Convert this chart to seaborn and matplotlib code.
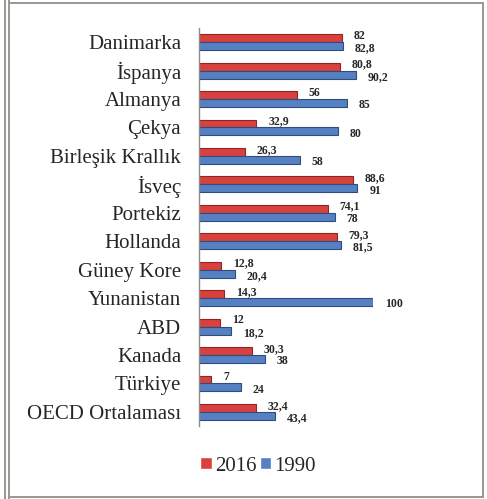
import matplotlib
matplotlib.use("Agg")
import matplotlib.pyplot as plt
import seaborn as sns
import pandas as pd
from matplotlib.lines import Line2D

categories = ["Danimarka", "İspanya", "Almanya", "Çekya", "Birleşik Krallık", "İsveç",
              "Portekiz", "Hollanda", "Güney Kore", "Yunanistan", "ABD", "Kanada",
              "Türkiye", "OECD Ortalaması"]
v2016 = [82, 80.8, 56, 32.9, 26.3, 88.6, 74.1, 79.3, 12.8, 14.3, 12, 30.3, 7, 32.4]
v1990 = [82.8, 90.2, 85, 80, 58, 91, 78, 81.5, 20.4, 100, 18.2, 38, 24, 43.4]
series = ["2016", "1990"]

def fmt(v):
    s = f"{v:g}"
    return s.replace(".", ",")

df = pd.DataFrame({
    "ulke": categories * 2,
    "deger": v2016 + v1990,
    "yil": [series[0]] * len(categories) + [series[1]] * len(categories),
})

sns.set_style("white")
plt.rcParams["font.family"] = ["Liberation Serif", "DejaVu Serif"]

fig = plt.figure(figsize=(4.87, 4.99), dpi=100)
ax = fig.add_axes([0.409, 0.146, 0.357, 0.798])

palette = {"2016": "#D9413E", "1990": "#5580C2"}
sns.barplot(data=df, y="ulke", x="deger", hue="yil", hue_order=series,
            order=categories, orient="h", palette=palette, width=0.56,
            saturation=1, ax=ax, legend=True)

edges = {"2016": "#8E2624", "1990": "#2E4C7E"}
offsets = {"2016": 1.6, "1990": -1.6}
for cont, s, vals in zip(ax.containers, series, [v2016, v1990]):
    for bar, v in zip(cont, vals):
        bar.set_edgecolor(edges[s])
        bar.set_linewidth(0.8)
        yc = bar.get_y() + bar.get_height() / 2
        ax.annotate(fmt(v), xy=(bar.get_width(), yc), xytext=(8.5, offsets[s]),
                    textcoords="offset points", ha="left", va="center",
                    fontsize=8.5, fontweight="bold", annotation_clip=False)

ax.set_xlim(0, 100)
ax.set_ylim(13.5, -0.5)
ax.set_xlabel("")
ax.set_ylabel("")
ax.set_xticks([])
ax.tick_params(axis="y", length=0, pad=13, labelsize=15)
for side in ["top", "right", "bottom"]:
    ax.spines[side].set_visible(False)
ax.spines["left"].set_color("#8C8C8C")
ax.spines["left"].set_linewidth(1.0)

handles, labels = ax.get_legend_handles_labels()
ax.get_legend().remove()
fig.legend(handles, labels, loc="center", bbox_to_anchor=(0.530, 0.066), ncol=2,
           frameon=False, fontsize=15, handlelength=0.55, handleheight=0.55,
           handletextpad=0.15, columnspacing=0.15)

W, H = 487, 499
bc = "#9A9690"
def fl(x0, y0, x1, y1, lw=1.4):
    fig.add_artist(Line2D([x0 / W, x1 / W], [1 - y0 / H, 1 - y1 / H],
                          transform=fig.transFigure, color=bc, linewidth=lw))
fl(4.8, 0, 4.8, H)
fl(8.8, 0, 8.8, H)
fl(8.8, 2.5, 482.5, 2.5)
fl(482.5, 2.5, 482.5, 496.8)
fl(8.8, 496.8, 482.5, 496.8)

fig.savefig("out.png", dpi=100)
